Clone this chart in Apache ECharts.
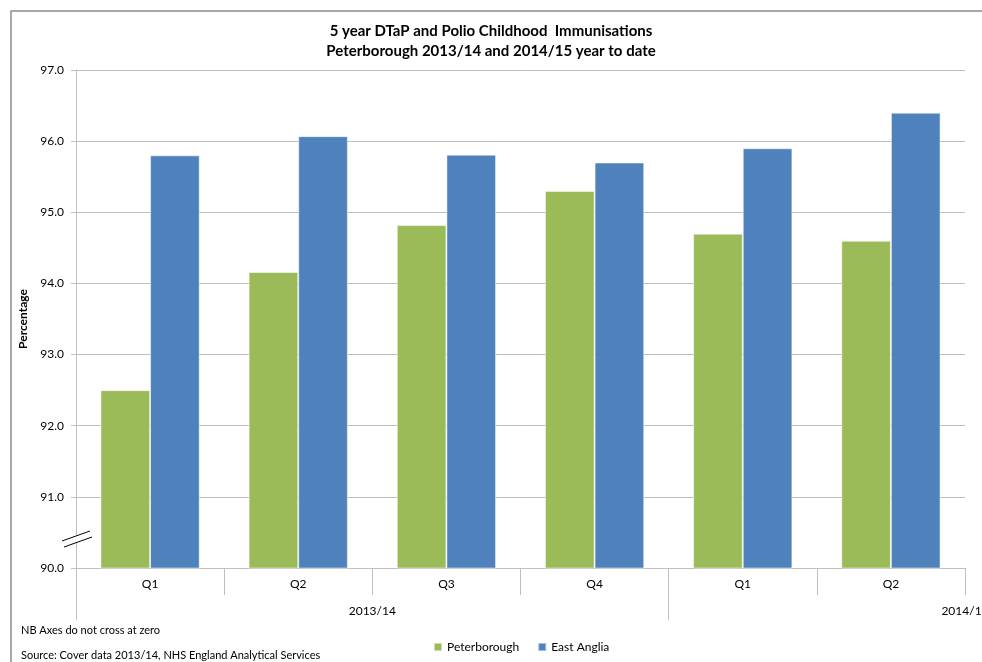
<!DOCTYPE html>
<html>
<head>
<meta charset="utf-8">
<script src="https://cdn.jsdelivr.net/npm/echarts@6/dist/echarts.min.js"></script>
<style>
  html, body { margin: 0; padding: 0; background: #fff; }
  #chart { width: 982px; height: 662px; }
</style>
</head>
<body>
<div id="chart"></div>
<script>
// data
var quarters = ['Q1', 'Q2', 'Q3', 'Q4', 'Q1', 'Q2']
var years = ['2013/14', '2014/15']
var peterborough = [92.5, 94.16, 94.82, 95.3, 94.7, 94.6]
var eastAnglia = [95.8, 96.07, 95.81, 95.7, 95.9, 96.4]
var yTicks = [90, 91, 92, 93, 94, 95, 96, 97]

var font = 'Lato, "Open Sans", sans-serif'
var grey = '#bfbfbf'

var chart = echarts.init(document.getElementById('chart'))

chart.setOption({
  animation: false,
  textStyle: { fontFamily: font },
  title: {
    text: '5 year DTaP and Polio Childhood  Immunisations\nPeterborough 2013/14 and 2014/15 year to date',
    left: 'center',
    top: 16,
    textStyle: { fontSize: 15, fontWeight: 'bold', color: '#000', lineHeight: 20, fontFamily: font }
  },
  legend: {
    left: 428,
    top: 636,
    icon: 'rect',
    itemWidth: 8,
    itemHeight: 8,
    itemGap: 18,
    textStyle: { fontSize: 12, color: '#000', fontFamily: font },
    data: ['Peterborough', 'East Anglia']
  },
  grid: { left: 76, right: 17, top: 70, bottom: 94, outerBoundsMode: 'none', containLabel: false },
  xAxis: [{
    type: 'category',
    data: quarters,
    axisLine: { show: true, lineStyle: { color: grey } },
    axisTick: { show: true, interval: 0, length: 27, lineStyle: { color: grey } },
    axisLabel: { margin: 10, fontSize: 12, color: '#000' }
  }, {
    type: 'value',
    min: 0,
    max: 6,
    position: 'bottom',
    offset: 27,
    axisLine: { show: false },
    splitLine: { show: false },
    axisTick: { show: true, length: 25, customValues: [0, 4], lineStyle: { color: grey } },
    axisLabel: {
      customValues: [2, 6],
      margin: 10,
      fontSize: 12,
      color: '#000',
      showMaxLabel: true,
      hideOverlap: false,
      formatter: function (v) { return v === 2 ? years[0] : years[1] }
    }
  }],
  yAxis: {
    type: 'value',
    min: yTicks[0],
    max: yTicks[yTicks.length - 1],
    interval: 1,
    name: 'Percentage',
    nameLocation: 'middle',
    nameRotate: 90,
    nameGap: 33,
    nameTextStyle: { fontSize: 12, fontWeight: 'bold', color: '#000', fontFamily: font },
    axisLine: { show: true, lineStyle: { color: grey } },
    axisTick: { show: true, length: 5, lineStyle: { color: grey } },
    axisLabel: { margin: 12, fontSize: 12, color: '#000', formatter: function (v) { return v.toFixed(1) } },
    splitLine: { lineStyle: { color: grey } }
  },
  series: [{
    name: 'Peterborough',
    type: 'bar',
    data: peterborough,
    barGap: '0%',
    barCategoryGap: '33%',
    itemStyle: { color: '#9BBB59', borderColor: 'rgba(255,255,255,0.5)', borderWidth: 1 }
  }, {
    name: 'East Anglia',
    type: 'bar',
    data: eastAnglia,
    itemStyle: { color: '#4F81BD', borderColor: 'rgba(255,255,255,0.5)', borderWidth: 1 }
  }],
  graphic: [
    // outer frame (only top and left visible in the picture)
    { type: 'rect', shape: { x: 11, y: 11, width: 1000, height: 700 }, style: { fill: 'none', stroke: '#8c8c8c', lineWidth: 1.5 }, z: 0, silent: true },
    // axis break mark
    { type: 'polygon', shape: { points: [[62, 541], [90, 531], [92, 537], [64, 547]] }, style: { fill: '#fff', stroke: 'none' }, z: 10 },
    { type: 'line', shape: { x1: 62, y1: 541, x2: 90, y2: 531 }, style: { stroke: '#000', lineWidth: 1 }, z: 11 },
    { type: 'line', shape: { x1: 64, y1: 547, x2: 92, y2: 537 }, style: { stroke: '#000', lineWidth: 1 }, z: 11 },
    { type: 'text', left: 21, top: 625, style: { text: 'NB Axes do not cross at zero', fontSize: 11, fill: '#000', fontFamily: font } },
    { type: 'text', left: 21, top: 650, style: { text: 'Source: Cover data 2013/14, NHS England Analytical Services', fontSize: 11, fill: '#000', fontFamily: font } }
  ]
})
</script>
</body>
</html>
